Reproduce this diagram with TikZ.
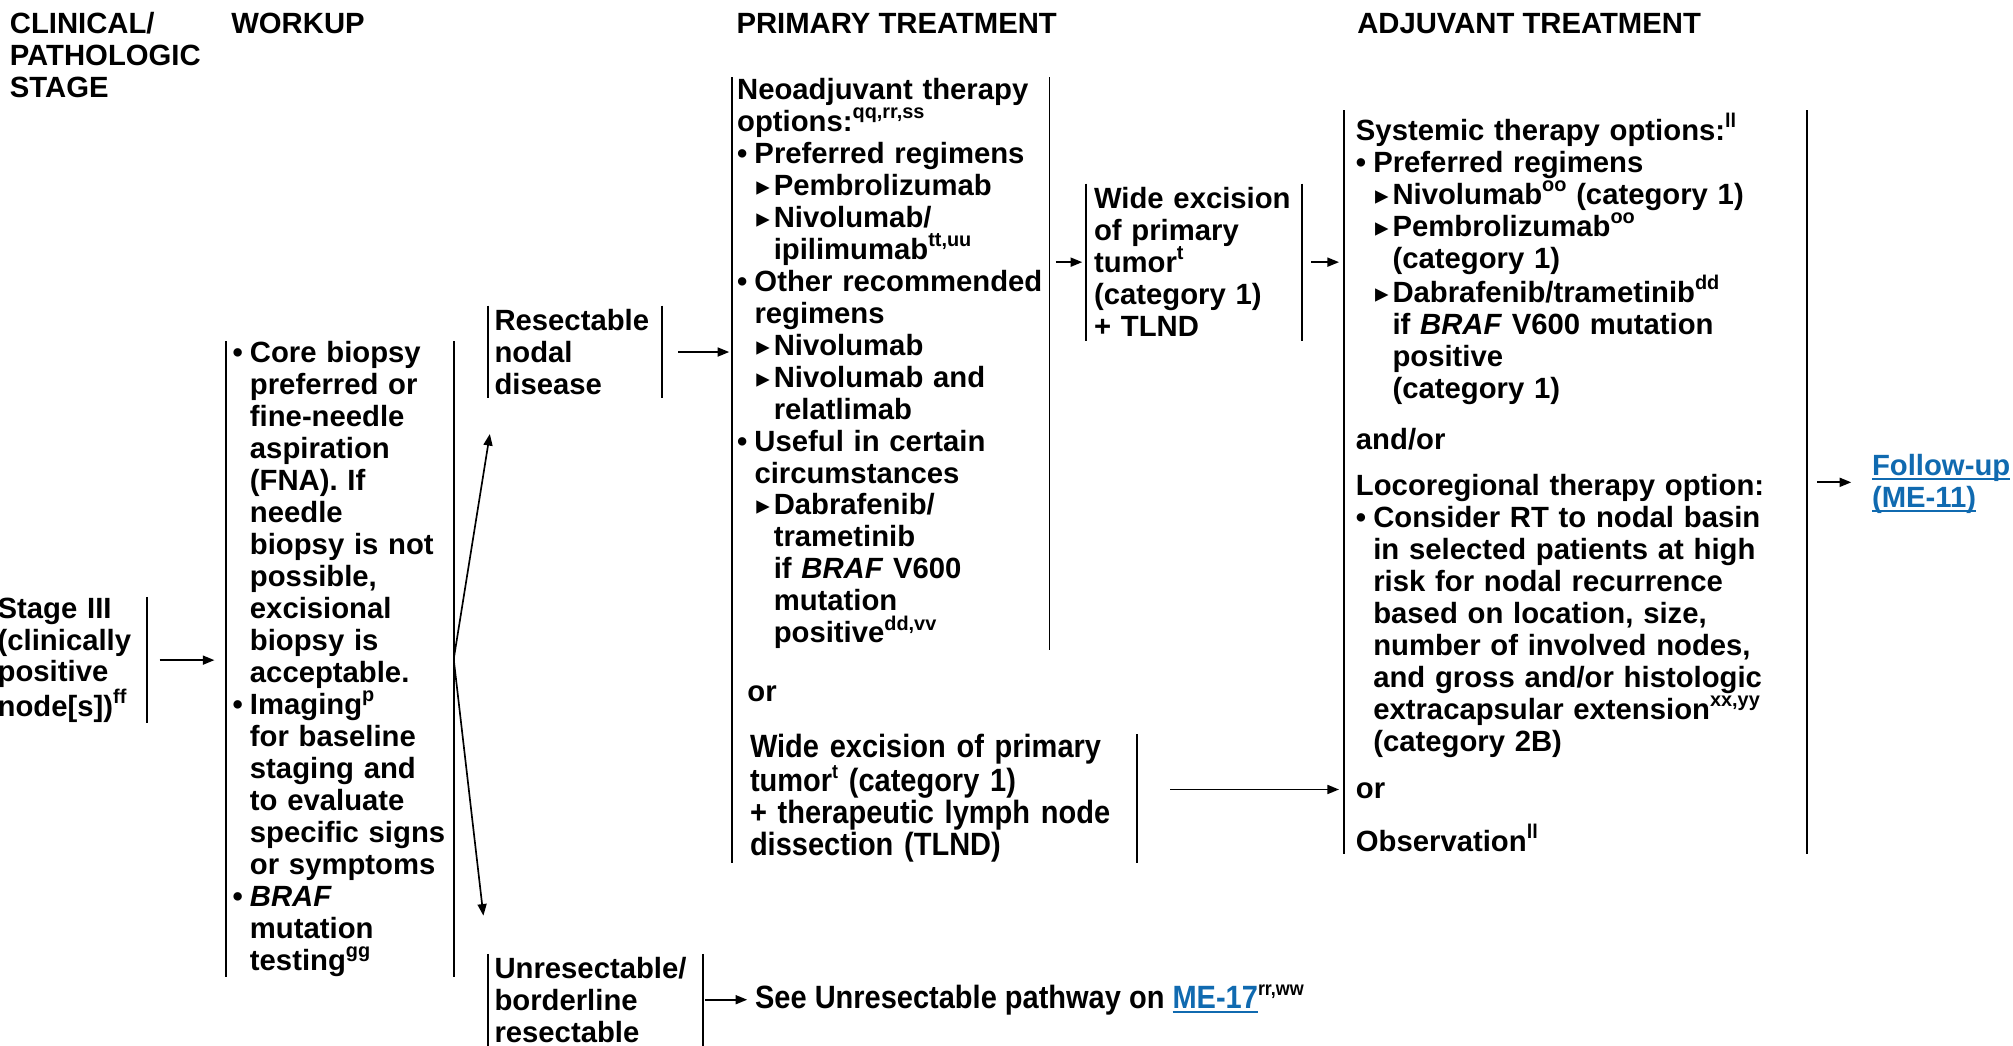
\documentclass[tikz,border=0pt]{standalone}
\usepackage{fontspec}
\setmainfont{Liberation Sans}
\newfontfamily\condfont{Liberation Sans}[FakeStretch=0.9]
\newfontfamily\symfont{DejaVu Sans}
\usetikzlibrary{arrows.meta}
\definecolor{lnk}{RGB}{16,106,176}
\newcommand{\fn}[1]{\raisebox{10pt}{\fontsize{15.5}{15.5}\selectfont #1}}
\newcommand{\bu}{\makebox[13.5pt][l]{•}}
\newcommand{\bx}{\hspace*{13.5pt}}
\newcommand{\tri}{\bx\makebox[15pt][l]{\hspace{1.5pt}\symfont\fontsize{21}{21}\selectfont ▸}}
\newcommand{\tx}{\hspace*{28.5pt}}
\newcommand{\lnk}[1]{\leavevmode{\color{lnk}\setbox0\hbox{#1}\rlap{\rule[-3.2pt]{\wd0}{1.5pt}}\box0}}
\begin{document}
\begin{tikzpicture}[x=1pt,y=-1pt,
 txt/.style={font=\fontsize{22.8}{24.9}\selectfont\bfseries, align=left},
 cond/.style={font=\condfont\fontsize{25.1}{24.9}\selectfont\bfseries},
 bar/.style={draw, line width=1.3pt},
 brk/.style={txt, anchor=north west, inner ysep=0pt,
  append after command={(\tikzlastnode.north west) edge[bar] (\tikzlastnode.south west)
   (\tikzlastnode.north east) edge[bar] (\tikzlastnode.south east)}},
 lbar/.style={txt, anchor=north west, inner ysep=0pt,
  append after command={(\tikzlastnode.north west) edge[bar] (\tikzlastnode.south west)}},
 arr/.style={line width=1.3pt, -{Triangle[length=9pt,width=7pt]}}]
\useasboundingbox (0,0) rectangle (1568,814);

\node[txt, anchor=base west, inner sep=0pt, text width=200pt] (hclin) at (7.5,26) {CLINICAL/\\PATHOLOGIC\\STAGE};
\node[txt, anchor=base west, inner sep=0pt] (hwork) at (180,26) {WORKUP};
\node[txt, anchor=base west, inner sep=0pt] (hprim) at (573.5,26) {PRIMARY TREATMENT};
\node[txt, anchor=base west, inner sep=0pt] (hadj) at (1057,26) {ADJUVANT TREATMENT};

\node[brk, minimum height=98pt, text width=108pt, inner xsep=8pt] (stage) at (-10,465) {Stage III\\(clinically\\positive\\node[s])\fn{ff}};
\node[brk, minimum height=491pt, text width=167pt, inner xsep=5pt] (work) at (176,266) {\bu Core biopsy\\\bx preferred or\\\bx fine-needle\\\bx aspiration\\\bx (FNA). If\\\bx needle\\\bx biopsy is not\\\bx possible,\\\bx excisional\\\bx biopsy is\\\bx acceptable.\\\bu Imaging\fn{p}\\\bx for baseline\\\bx staging and\\\bx to evaluate\\\bx specific signs\\\bx or symptoms\\\bu \textit{BRAF}\\\bx mutation\\\bx testing\fn{gg}};
\node[brk, minimum height=72pt, text width=125pt, inner xsep=5pt] (res) at (380,238) {Resectable\\nodal\\disease};
\node[brk, minimum height=71pt, text width=157pt, inner xsep=5pt] (unres) at (380,743) {Unresectable/\\borderline\\resectable};
\node[txt, cond, anchor=west, inner sep=0pt] (see) at (588,779) {See Unresectable pathway on \lnk{ME-17}\fn{rr,ww}};

\node[brk, minimum height=446pt, text width=239pt, inner xsep=4pt] (neo) at (570,60) {Neoadjuvant therapy\\options:\fn{qq,rr,ss}\\\bu Preferred regimens\\\tri Pembrolizumab\\\tri Nivolumab/\\\tx ipilimumab\fn{tt,uu}\\\bu Other recommended\\\bx regimens\\\tri Nivolumab\\\tri Nivolumab and\\\tx relatlimab\\\bu Useful in certain\\\bx circumstances\\\tri Dabrafenib/\\\tx trametinib\\\tx if \textit{BRAF} V600\\\tx mutation\\\tx positive\fn{dd,vv}};
\node[lbar, minimum height=70pt, text width=30pt, inner xsep=12pt] (orp) at (570,505) {or};
\node[brk, cond, minimum height=92pt, text width=287pt, inner xsep=14pt] (wideb) at (570,572) {Wide excision of primary\\tumor\fn{t} (category 1)\\+ therapeutic lymph node\\dissection (TLND)};
\node[brk, minimum height=122pt, text width=156pt, inner xsep=6pt] (wide) at (846,143) {Wide excision\\of primary\\tumor\fn{t}\\(category 1)\\+ TLND};

\node[brk, minimum height=579pt, text width=342pt, inner xsep=9pt] (adj) at (1047,86) {Systemic therapy options:\fn{ll}\\\bu Preferred regimens\\\tri Nivolumab\fn{oo} (category 1)\\\tri Pembrolizumab\fn{oo}\\\tx (category 1)\\\tri Dabrafenib/trametinib\fn{dd}\\\tx if \textit{BRAF} V600 mutation\\\tx positive\\\tx (category 1)\\[14.9pt]and/or\\[11pt]Locoregional therapy option:\\\bu Consider RT to nodal basin\\\bx in selected patients at high\\\bx risk for nodal recurrence\\\bx based on location, size,\\\bx number of involved nodes,\\\bx and gross and/or histologic\\\bx extracapsular extension\fn{xx,yy}\\\bx (category 2B)\\[12pt]or\\[16pt]Observation\fn{ll}};
\node[txt, anchor=west, inner sep=0pt, text width=100pt] (fu) at (1458,377) {\lnk{Follow-up}\\\lnk{(ME-11)}};

\coordinate (wbo) at ([yshift=7pt]wideb.east);
\draw[arr, shorten <=10pt, shorten >=9pt] (stage.east) -- (stage.east -| work.west);
\draw[arr, shorten <=2pt, shorten >=28pt] (work.east) -- ([xshift=6pt]res.south west);
\draw[arr, shorten <=2pt, shorten >=30pt] (work.east) -- (unres.north west);
\draw[arr, shorten <=13pt, shorten >=2pt] (res.east) -- (res.east -| neo.west);
\draw[arr, shorten <=5pt, shorten >=3pt] (wide.west -| neo.east) -- (wide.west);
\draw[arr, shorten <=7pt, shorten >=4pt] (wide.east) -- (wide.east -| adj.west);
\draw[arr, shorten <=26pt, shorten >=4pt] (wbo) -- (wbo -| adj.west);
\draw[arr, shorten <=8pt, shorten >=16pt] (adj.east) -- (adj.east -| fu.west);
\draw[arr, shorten <=2pt, shorten >=6pt] (unres.east) -- (unres.east -| see.west);
\end{tikzpicture}
\end{document}
